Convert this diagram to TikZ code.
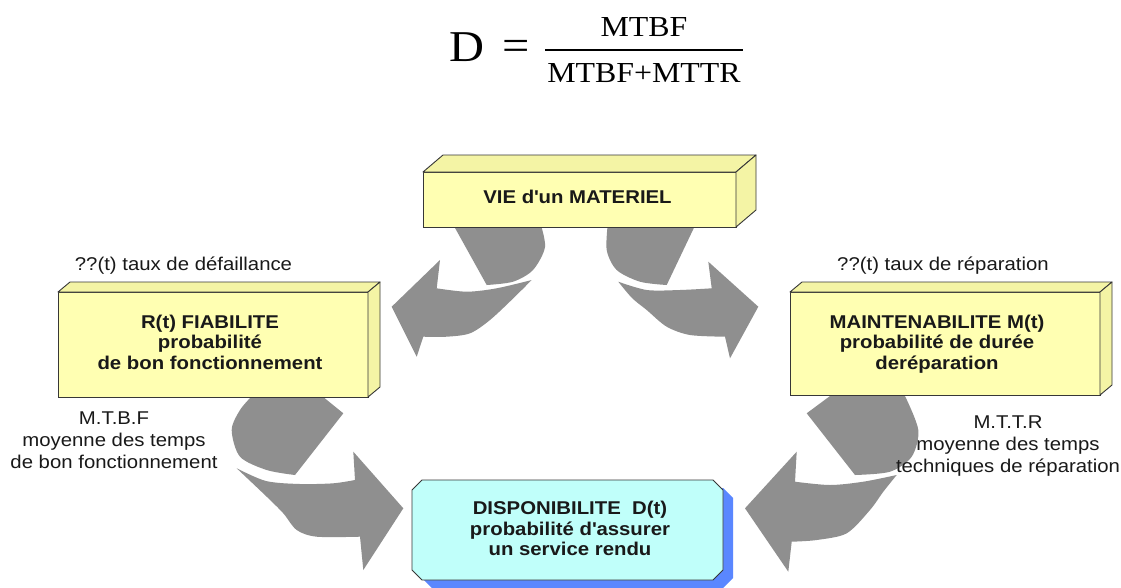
\documentclass[tikz,border=0pt]{standalone}
\usepackage{fontspec}
\setmainfont{Liberation Sans}[FakeStretch=1.1]
\newfontfamily\formulafont{Liberation Serif}[FakeStretch=1.1]
\usetikzlibrary{calc}

\definecolor{boxyellow}{RGB}{255,255,178}
\definecolor{boxside}{RGB}{244,244,165}
\definecolor{boxline}{RGB}{55,55,55}
\definecolor{arrowgray}{RGB}{143,143,143}
\definecolor{dispofill}{RGB}{192,255,250}
\definecolor{shadowblue}{RGB}{90,135,255}
\definecolor{textdark}{RGB}{25,25,25}

\tikzset{
  slabfront/.style={draw=boxline, fill=boxyellow, line width=0.9pt, inner sep=0pt, outer sep=0pt},
  slabface/.style={draw=boxline, fill=boxside, line width=0.9pt, line join=round},
  boxtext/.style={font=\bfseries\fontsize{18.5}{20.5}\selectfont, align=center, text=textdark, inner sep=0pt},
  labeltext/.style={font=\fontsize{18.5}{22}\selectfont, align=center, text=textdark, inner sep=0pt},
  curvedarrow/.style={fill=arrowgray},
  formula/.style={font=\formulafont\fontsize{29}{29}\selectfont, inner sep=0pt, text=black},
}

% octagonal outline of a node, corners cut by 10 units
\newcommand\cutcorners[1]{%
  ($(#1.north west)+(10,0)$) -- ($(#1.north east)+(-10,0)$) --
  ($(#1.north east)+(0,10)$) -- ($(#1.south east)+(0,-10)$) --
  ($(#1.south east)+(-10,0)$) -- ($(#1.south west)+(10,0)$) --
  ($(#1.south west)+(0,-10)$) -- ($(#1.north west)+(0,10)$) -- cycle}

\begin{document}
\begin{tikzpicture}[x=1pt,y=-1pt]
\useasboundingbox (0,0) rectangle (1121,587);
\fill[white] (0,0) rectangle (1121,587);

% ---- availability formula ----
\node[formula, font=\formulafont\fontsize{44}{44}\selectfont] (D) at (467,47) {D};
\node[formula, font=\formulafont\fontsize{44}{44}\selectfont] (eq) at (516,50) {=};
\node[formula] (num) at (644,27) {MTBF};
\node[formula] (den) at (644,73) {MTBF+MTTR};
\coordinate (barL) at (545,50);
\coordinate (barR) at (743,50);
\draw[line width=2.6pt] (barL) -- (barR);

% ---- curved arrows ----
% top left
\fill[curvedarrow] (451.7,222) -- plot[smooth] coordinates {(486.7,285) (513,281.7) (533,270) (545,247) (540,222)} -- cycle;
\fill[curvedarrow] (391.7,306.7) -- (440,260) -- (436.7,288.3)
  -- plot[smooth] coordinates {(436.7,288.3) (466.7,291.7) (496.7,288.3) (531.7,280)}
  -- plot[smooth] coordinates {(531.7,280) (513.3,298.3) (490,320) (470,333.3) (446.7,336.7) (423.3,336.7)}
  -- (416.7,356.7) -- cycle;
% top right
\fill[curvedarrow] (696.7,222) -- plot[smooth] coordinates {(666.7,285) (640,281.7) (616.7,270) (606.7,250) (608,222)} -- cycle;
\fill[curvedarrow] (758.3,306.7) -- (708.3,261.7) -- (711.7,288.3)
  -- plot[smooth] coordinates {(711.7,288.3) (680,290) (646.7,290) (618.3,281.7)}
  -- plot[smooth] coordinates {(618.3,281.7) (632,298) (646.7,310) (666.7,326.7) (690,335) (725,336.7)}
  -- (730,358.3) -- cycle;
% bottom left
\fill[curvedarrow] (343.3,413.3) -- plot[smooth] coordinates {(295,475) (266.7,470) (240,456.7) (231.7,430) (240,410) (252,396)} -- (322,396) -- cycle;
\fill[curvedarrow] (236.7,468.3)
  -- plot[smooth] coordinates {(236.7,468.3) (266,481) (300,484) (333.3,483.3) (355,480)}
  -- (353.3,451.7) -- (403.3,508.3) -- (363.3,570) -- (360,536.7)
  -- plot[smooth] coordinates {(360,536.7) (316.7,536.7) (296.7,530) (283.3,513.3) (266.7,496.7) (236.7,468.3)}
  -- cycle;
% bottom right
\fill[curvedarrow] (806.7,413.3) -- plot[smooth] coordinates {(855,475) (890,471.7) (911.7,456.7) (918.3,430) (905,396)} -- (830,396) -- cycle;
\fill[curvedarrow] (896.7,475)
  -- plot[smooth] coordinates {(896.7,475) (863.3,481.7) (830,485) (795,481.7)}
  -- (796.7,451.7) -- (745,508.3) -- (788.3,571.7) -- (791.7,541.7)
  -- plot[smooth] coordinates {(791.7,541.7) (816.7,540) (846.7,533.3) (870,510) (883.3,491.7) (896.7,475)}
  -- cycle;

% ---- top slab: VIE d'un MATERIEL ----
\node[slabfront, minimum width=313pt, minimum height=55pt] (vie) at (579.5,199.5) {};
\draw[slabface] (vie.north west) -- ++(20,-17) -- ($(vie.north east)+(20,-17)$) -- (vie.north east) -- cycle;
\draw[slabface] (vie.north east) -- ++(20,-17) -- ($(vie.south east)+(20,-17)$) -- (vie.south east) -- cycle;
\node[boxtext] (vieT) at (577.5,197) {VIE d\textquotesingle un MATERIEL};

% ---- left slab: reliability ----
\node[slabfront, minimum width=310pt, minimum height=105pt] (fia) at (213,344.5) {};
\draw[slabface] (fia.north west) -- ++(12,-10) -- ($(fia.north east)+(12,-10)$) -- (fia.north east) -- cycle;
\draw[slabface] (fia.north east) -- ++(12,-10) -- ($(fia.south east)+(12,-10)$) -- (fia.south east) -- cycle;
\node[boxtext] (fiaT) at (210,342) {R(t) FIABILITE\\probabilité\\de bon fonctionnement};

% ---- right slab: maintainability ----
\node[slabfront, minimum width=310pt, minimum height=103pt] (mai) at (945,343.5) {};
\draw[slabface] (mai.north west) -- ++(12,-10) -- ($(mai.north east)+(12,-10)$) -- (mai.north east) -- cycle;
\draw[slabface] (mai.north east) -- ++(12,-10) -- ($(mai.south east)+(12,-10)$) -- (mai.south east) -- cycle;
\node[boxtext] (maiT) at (937,344) {MAINTENABILITE M(t)\\probabilité de durée\\deréparation};

% ---- availability box with its blue shadow ----
\node[inner sep=0pt, outer sep=0pt, minimum width=311pt, minimum height=100pt] (dis) at (567.5,530) {};
\node[inner sep=0pt, outer sep=0pt, minimum width=311pt, minimum height=100pt] (disShadow) at (577.5,538) {};
\fill[shadowblue] \cutcorners{disShadow};
\filldraw[draw=boxline, fill=dispofill, line width=0.9pt, line join=round] \cutcorners{dis};
\node[boxtext] (disT) at (570,528.5) {DISPONIBILITE~~D(t)\\probabilité d\textquotesingle assurer\\un service rendu};

% ---- rate and mean-time labels ----
\node[labeltext] (lam) at (183.5,266) {??(t) taux de défaillance};
\node[labeltext] (mu) at (943,266) {??(t) taux de réparation};
\node[labeltext] (mtbf) at (114,440) {M.T.B.F\\moyenne des temps\\de bon fonctionnement};
\node[labeltext] (mttr) at (1008,446) {M.T.T.R\\moyenne des temps\\techniques de réparation};
\end{tikzpicture}
\end{document}
